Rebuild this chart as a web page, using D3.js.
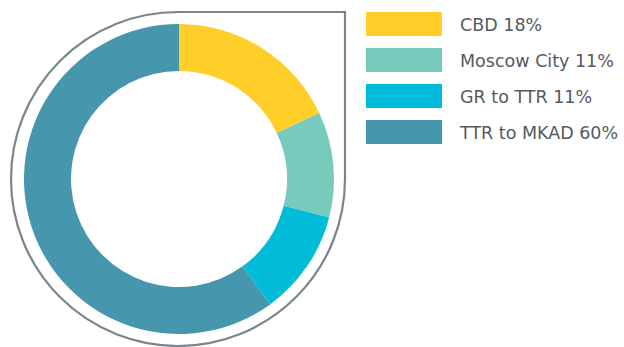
<!DOCTYPE html>
<html>
<head>
<meta charset="utf-8">
<script src="https://cdn.jsdelivr.net/npm/d3@7"></script>
<style>
  html, body { margin: 0; padding: 0; background: #fff; }
  svg { display: block; }
</style>
</head>
<body>
<svg id="chart" width="624" height="347"></svg>
<script>
// Office stock by submarket, share of total
const categories = ["CBD", "Moscow City", "GR to TTR", "TTR to MKAD"];
const shares = [18, 11, 11, 60];
const colors = ["#FFCE29", "#77CBBD", "#00BCD9", "#4697AD"];

const svg = d3.select("#chart");

const cx = 179, cy = 179;
const outerR = 155, innerR = 108;

// Teardrop frame: square corner at top-right, round elsewhere
const fx = 178, fy = 179, fr = 167;
const frame = d3.path();
frame.moveTo(fx, fy - fr);
frame.lineTo(fx + fr, fy - fr);
frame.lineTo(fx + fr, fy);
frame.arc(fx, fy, fr, 0, -Math.PI / 2 + 2 * Math.PI, false);
svg.append("path")
  .attr("d", frame.toString())
  .attr("fill", "none")
  .attr("stroke", "#7B868C")
  .attr("stroke-width", 2.2);

// Donut
const pie = d3.pie().sort(null).value(d => d.value);
const arc = d3.arc().innerRadius(innerR).outerRadius(outerR);
const data = categories.map((c, i) => ({ name: c, value: shares[i], color: colors[i] }));

svg.append("g")
  .attr("transform", `translate(${cx},${cy})`)
  .selectAll("path")
  .data(pie(data))
  .join("path")
  .attr("d", arc)
  .attr("fill", d => d.data.color);

// Legend: one swatch and label per submarket
const rows = svg.append("g")
  .selectAll("g")
  .data(data)
  .join("g")
  .attr("transform", (d, i) => `translate(366,${12 + i * 36})`);

rows.append("rect")
  .attr("width", 76)
  .attr("height", 24)
  .attr("fill", d => d.color);

rows.append("text")
  .attr("x", 94)
  .attr("y", 19)
  .attr("font-family", "DejaVu Sans, Verdana, sans-serif")
  .attr("font-size", 17.5)
  .attr("fill", "#555a5e")
  .text(d => `${d.name} ${d.value}%`);
</script>
</body>
</html>
